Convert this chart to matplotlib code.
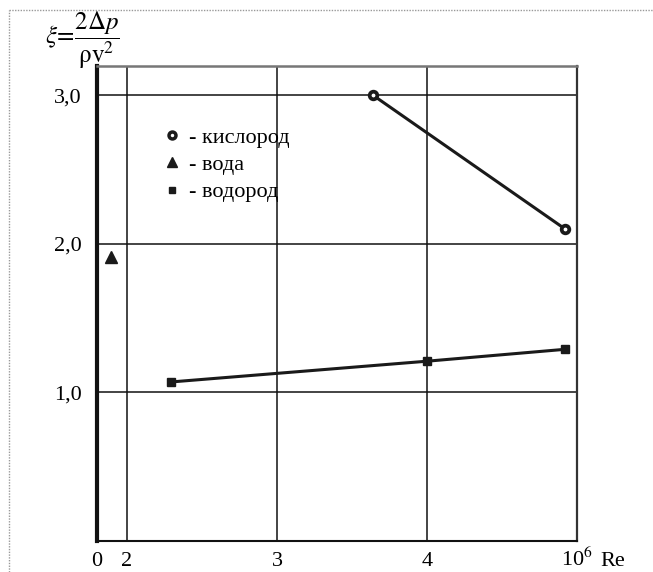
# -*- coding: utf-8 -*-

import matplotlib.pyplot as plt
from matplotlib.lines import Line2D

plt.rcParams['font.family'] = ['Liberation Serif', 'DejaVu Serif']
plt.rcParams['mathtext.fontset'] = 'stix'

# Re, in units of 10^6 (axis is broken: "0" is drawn at the left edge)
oxygen_re = [3.64, 4.92]
oxygen_xi = [3.00, 2.10]
water_re = [1.89]
water_xi = [1.91]
hydrogen_re = [2.29, 4.00, 4.92]
hydrogen_xi = [1.07, 1.21, 1.29]

x_ticks = [1.8, 2, 3, 4, 5]
x_labels = ["0", "2", "3", "4", "10$^6$"]
y_ticks = [1, 2, 3]
y_labels = ["1,0", "2,0", "3,0"]
legend_labels = ["- кислород", "- вода", "- водород"]

fig = plt.figure(figsize=(6.53, 5.72), dpi=100)
ax = fig.add_axes([97/653, 31/572, 480/653, 475.5/572])

# grid
for x in [2, 3, 4]:
    ax.axvline(x, color='#111111', lw=1.1, zorder=1)
for y in y_ticks:
    ax.axhline(y, color='#111111', lw=1.1, zorder=1)

ax.plot(oxygen_re, oxygen_xi, '-', color='#1a1a1a', lw=2.2, zorder=3)
ax.plot(oxygen_re, oxygen_xi, 'o', ms=5.5, mfc='white', mec='#1a1a1a',
        mew=2.7, zorder=4)
ax.plot(water_re, water_xi, '^', ms=8, color='#1a1a1a', zorder=4)
ax.plot(hydrogen_re, hydrogen_xi, '-', color='#1a1a1a', lw=2.2, zorder=3)
ax.plot(hydrogen_re, hydrogen_xi, 's', ms=5.5, color='#1a1a1a', zorder=4)

ax.set_xlim(1.8, 5)
ax.set_ylim(0, 3.2)
ax.set_xticks(x_ticks)
ax.set_xticklabels(x_labels)
ax.set_yticks(y_ticks)
ax.set_yticklabels(y_labels)
ax.tick_params(length=0, labelsize=16)
ax.tick_params(axis='x', pad=18)
ax.tick_params(axis='y', pad=11)
for lab in ax.get_xticklabels():
    lab.set_verticalalignment('baseline')

ax.spines['left'].set_linewidth(3)
ax.spines['left'].set_color('#111111')
ax.spines['bottom'].set_linewidth(1.5)
ax.spines['bottom'].set_color('#111111')
ax.spines['right'].set_linewidth(1.6)
ax.spines['right'].set_color('#333333')
ax.spines['top'].set_linewidth(1.8)
ax.spines['top'].set_color('#777777')

ax.annotate("Re", xy=(5, 0), xycoords='data', xytext=(17, -18),
            textcoords='offset points', ha='left', va='baseline', fontsize=16)

fig.text(82/653, 1 - 40/572, r"$\xi\!=\!\dfrac{2\Delta p}{\mathrm{\rho v}^2}$",
         ha='center', va='center', fontsize=18)

handles = [
    Line2D([], [], ls='', marker='o', ms=5, mfc='white', mec='#1a1a1a', mew=2.5),
    Line2D([], [], ls='', marker='^', ms=7.5, color='#1a1a1a'),
    Line2D([], [], ls='', marker='s', ms=5, color='#1a1a1a'),
]
ax.legend(handles, legend_labels, loc='upper left',
          bbox_to_anchor=(0.115, 0.893), frameon=False, fontsize=16,
          handlelength=0.8, handletextpad=0.35, labelspacing=0.3,
          borderpad=0)

# dotted page frame
fig.add_artist(Line2D([9/653, 9/653], [0, 1 - 10/572], color='#999999',
                      lw=1, ls=(0, (1, 1))))
fig.add_artist(Line2D([9/653, 1], [1 - 10/572, 1 - 10/572], color='#999999',
                      lw=1, ls=(0, (1, 1))))

fig.savefig('out.png', dpi=100)
